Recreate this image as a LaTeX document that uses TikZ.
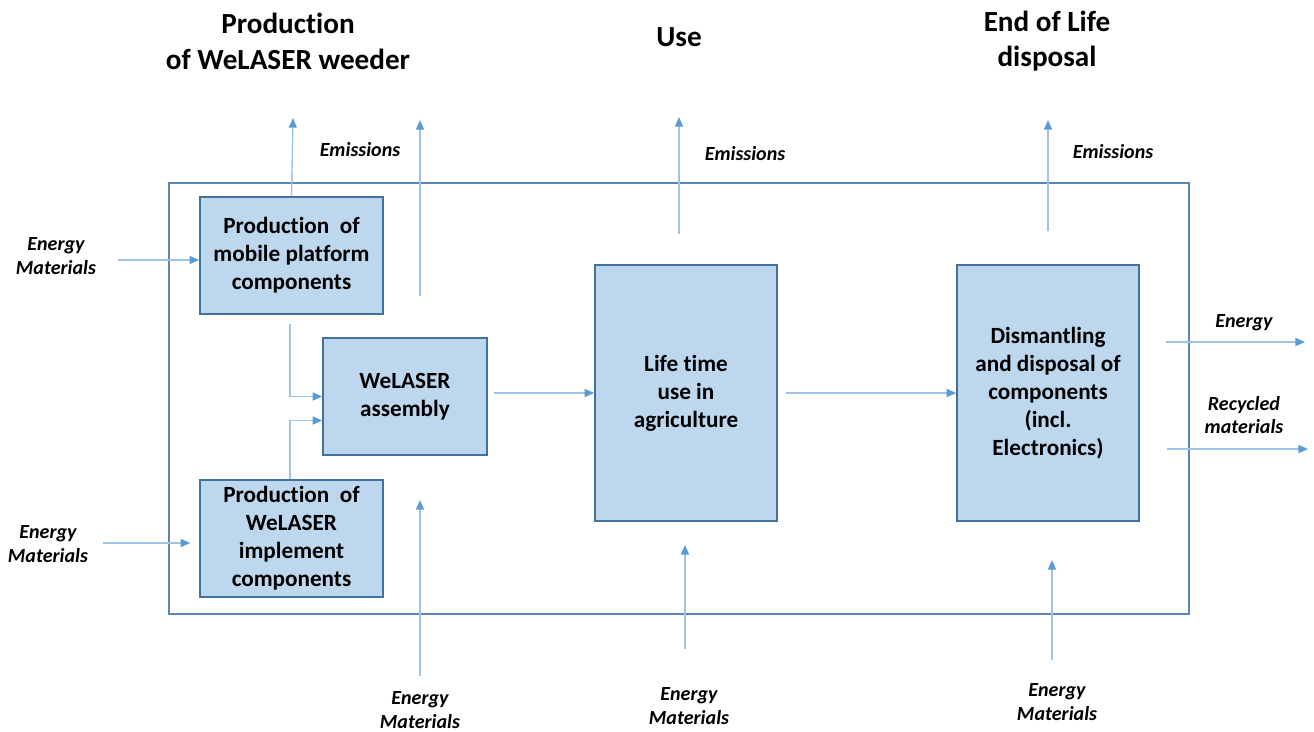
\documentclass[tikz,border=0pt]{standalone}
\usepackage{fontspec}
\setmainfont{Carlito}[Ligatures=NoCommon]
\usetikzlibrary{arrows.meta, calc}
\definecolor{boxfill}{HTML}{BDD7EE}
\definecolor{boxline}{HTML}{41719C}
\definecolor{frameline}{HTML}{5B86B5}
\definecolor{flowline}{HTML}{9DC3E6}
\definecolor{flowtip}{HTML}{5B9BD5}

\begin{document}
\begin{tikzpicture}[
  x=0.02cm, y=-0.02cm,
  stage/.style={draw=boxline, line width=0.9pt, fill=boxfill,
                align=center, inner sep=2pt,
                font=\bfseries\fontsize{13.2}{15.9}\selectfont},
  phase/.style={align=center, font=\bfseries\fontsize{16.6}{20.4}\selectfont},
  lbl/.style={align=center, font=\bfseries\itshape\fontsize{11.4}{13.6}\selectfont},
  ar/.style={draw=flowline, line width=0.8pt,
             -{Triangle[length=5.5pt, width=4.6pt, color=flowtip]}},
]
  \useasboundingbox (0,0) rectangle (1314,731);

  % phases
  \node[phase] (tprod) at (288,41) {Production\\of WeLASER weeder};
  \node[phase] (tuse) at (679,37) {Use};
  \node[phase] (teol) at (1047,41) {End of Life\\disposal};

  % system boundary
  \draw[frameline, line width=1.1pt] (169,183) rectangle (1189,614);

  \node[stage, minimum width=3.66cm, minimum height=2.34cm] (mob) at (291.5,255.5)
    {Production\ \ of\\mobile platform\\components};
  \node[stage, minimum width=3.28cm, minimum height=2.34cm] (asm) at (405,396.5)
    {WeLASER\\assembly};
  \node[stage, minimum width=3.66cm, minimum height=2.34cm] (imp) at (291.5,538.5)
    {Production\ \ of\\WeLASER\\implement\\components};
  \node[stage, minimum width=3.64cm, minimum height=5.12cm] (life) at (686,393)
    {Life time\\use in\\agriculture};
  \node[stage, minimum width=3.64cm, minimum height=5.12cm] (dis) at (1048,393)
    {Dismantling\\and disposal of\\components\\(incl.\\Electronics)};

  % flow labels
  \node[lbl] (em1) at (360,150) {Emissions};
  \node[lbl] (em2) at (745,154) {Emissions};
  \node[lbl] (em3) at (1113,152) {Emissions};
  \node[lbl] (in1) at (56,256) {Energy\\Materials};
  \node[lbl] (in2) at (48,544) {Energy\\Materials};
  \node[lbl] (in3) at (420,710) {Energy\\Materials};
  \node[lbl] (in4) at (689,706) {Energy\\Materials};
  \node[lbl] (in5) at (1057,702) {Energy\\Materials};
  \node[lbl] (out1) at (1244,323) {Energy};
  \node[lbl] (out2) at (1244,415) {Recycled\\materials};

  % free ends
  \coordinate (e1) at (293,118);
  \coordinate (e2a) at (420,296);
  \coordinate (e2) at (420,120);
  \coordinate (e3a) at (679,234);
  \coordinate (e3) at (679,117);
  \coordinate (e4a) at (1048,231);
  \coordinate (e4) at (1048,120);
  \coordinate (i1) at (118,260);
  \coordinate (i2) at (103,543);
  \coordinate (i3) at (420,676);
  \coordinate (i3b) at (420,500);
  \coordinate (i4) at (685,649);
  \coordinate (i4b) at (685,545);
  \coordinate (i5) at (1052,660);
  \coordinate (i5b) at (1052,560);
  \coordinate (o1a) at (1166,342);
  \coordinate (o1) at (1305,342);
  \coordinate (o2a) at (1167,449);
  \coordinate (o2) at (1308,449);

  \draw[ar] (mob.north) -- (e1);
  \draw[ar] (e2a) -- (e2);
  \draw[ar] (e3a) -- (e3);
  \draw[ar] (e4a) -- (e4);
  \draw[ar] (i1) -- (i1 -| mob.west);
  \draw[ar] (i2) -- ($(i2 -| imp.west)+(-9,0)$);
  \draw[ar] (i3) -- (i3b);
  \draw[ar] (i4) -- (i4b);
  \draw[ar] (i5) -- (i5b);

  \draw[ar] ($(mob.south)+(-1.5,9)$) |- (asm.west);
  \draw[ar] ($(imp.north)+(-1.5,0)$) |- ($(asm.west)+(0,24)$);
  \draw[ar] ($(asm.east |- life.west)+(6,0)$) -- (life.west);
  \draw[ar] ($(life.east)+(8,0)$) -- (dis.west);

  \draw[ar] (o1a) -- (o1);
  \draw[ar] (o2a) -- (o2);
\end{tikzpicture}
\end{document}
